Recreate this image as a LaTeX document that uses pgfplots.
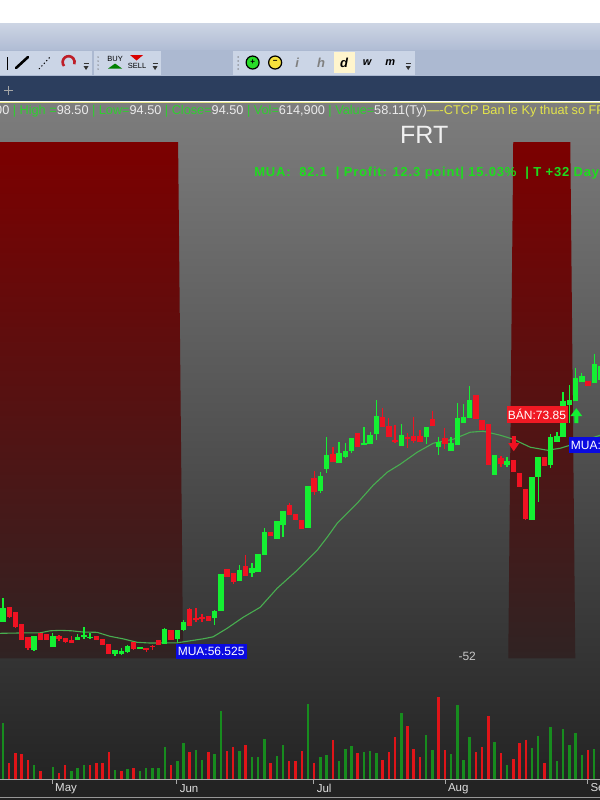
\documentclass[border=0pt]{standalone}
\usepackage{pgfplots}
\usepackage{pgfplotstable}
\usepackage{fontspec}
\setmainfont{Liberation Sans}
\newfontfamily\spacedbold[LetterSpace=6,BoldFont={Liberation Sans Bold}]{Liberation Sans}
\pgfplotsset{compat=1.18}
\definecolor{upG}{HTML}{14F032}
\definecolor{dnR}{HTML}{F01222}
\definecolor{volG}{HTML}{178C1E}
\definecolor{volR}{HTML}{E01418}
\definecolor{maG}{HTML}{48AE50}
\definecolor{infoG}{HTML}{2ED02E}
\definecolor{infoY}{HTML}{E4E44A}
\definecolor{barB}{HTML}{2C3E5E}
\definecolor{chip}{HTML}{CBD5E6}
\definecolor{tbTop}{RGB}{205,213,228}
\definecolor{tbBot}{RGB}{176,188,212}
\definecolor{tbMid}{RGB}{172,185,209}
\definecolor{yline}{RGB}{230,230,140}
\definecolor{bgTop}{RGB}{125,125,125}
\definecolor{bgBot}{RGB}{33,33,33}
\definecolor{magnet}{RGB}{190,30,40}
\definecolor{zoomG}{RGB}{40,220,40}
\definecolor{zoomY}{RGB}{245,225,60}
\definecolor{cream}{RGB}{255,245,205}
\definecolor{zoneTop}{RGB}{124,0,0}
\definecolor{zoneBot}{RGB}{48,35,35}
\definecolor{axLine}{RGB}{170,170,170}
\definecolor{axLow}{RGB}{150,150,150}
\definecolor{axText}{RGB}{222,222,222}
\definecolor{lblB}{RGB}{10,10,225}
\definecolor{lblR}{RGB}{240,25,35}
\definecolor{numG}{RGB}{200,200,200}
\definecolor{frtC}{RGB}{240,240,240}
\definecolor{muaG}{RGB}{30,220,30}
\definecolor{infoW}{RGB}{235,235,235}
% candles: x, body top, body bottom, wick top, wick bottom (picture rows)
\pgfplotstableread{
x bt bb wt wb
3.0 608 622 598 622
34.1 636 650 636 651
52.8 636 647 633 647
77.6 637 639.5 634 640
83.9 635 637 627 639
90.1 637 638 633 639
115.0 650 654 650 656
121.2 651 654 648 655
127.4 646 652 645 653
139.8 647 649 647 649
164.7 629 644 628 644
177.2 630 639 630 642
183.4 622 630 620 631
214.5 611 618 610 625
220.7 574 611 574 611
239.4 570 581 565 581
251.8 568 573 563 577
258.0 554 572 554 572
264.2 532 555 528 555
276.7 521 539 521 539
282.9 511 525 511 537
307.8 486 528 486 528
320.2 476 491 472 493
326.4 455 469 437 473
338.9 453 463 442 463
345.1 451 457 443 458
351.3 438 451 438 453
363.8 443 444.5 427 445
370.0 435 444 432 444
376.2 416 434 400 440
401.1 435 446 424 446
426.0 427 437 427 444
438.4 442 447 437 455
450.8 443 451 437 451
457.1 418 445 403 445
463.3 417 423 404 423
469.5 400 418 386 418
494.4 455 475 455 475
506.8 461 465 457 467
531.7 477 520 477 520
537.9 457 477 457 502
550.4 437 465 434 468
556.6 436 442 432 442
562.8 401 437 392 437
569.0 400 405 385 423
575.2 378 401 368 401
581.5 376 382 373 382
593.9 364 383 354 383
600.1 366 380 360 384
}\upcandles
\pgfplotstableread{
x bt bb wt wb
9.2 607 617 607 618
15.4 612 627 612 628
21.7 624 640 624 640
27.9 637 648 637 650
40.3 633 640 633 640
46.5 634 640 634 640
59.0 636 639 635 641
65.2 638 642 638 643
71.4 640 643 636 643
96.3 636 640 636 640
102.5 639 645 639 645
108.7 644 654 644 654
133.6 642 649 642 650
146.1 648 649.5 648 652
152.3 645.5 647 645 650
158.5 640 645 640 645
170.9 630 640 630 640
189.6 609 626 608 626
195.8 618 620 608 622
202.0 617 619 614 622
208.3 616 621 616 621
226.9 569 577 569 577
233.1 573 582 573 584
245.6 566 576 555 576
270.5 532 536 532 536
289.1 505 515 503 515
295.3 514 520 514 520
301.6 520 529 520 529
314.0 478 492 471 495
332.7 454 462 447 462
357.5 433 447 433 447
382.4 417 427 408 427
388.6 426 437 418 437
394.9 440 442 425 443
407.3 437 439 433 448
413.5 436 441 417 443
419.7 436 442 430 442
432.2 419 426 411 426
444.6 438 444 428 449
475.7 395 419 395 419
481.9 420 430 420 430
488.2 424 465 424 465
500.6 458 464 456 467
513.0 460 472 460 472
519.3 473 487 473 487
525.5 489 519 489 520
544.1 457 466 457 466
587.7 381 386 381 386
}\dncandles
% volume: x, top row of the bar (base row 779.5)
\pgfplotstableread{
x t
3.0 723
34.1 765
52.8 766.7
71.4 770.7
77.6 768
83.9 764.7
115.0 770
127.4 769
139.8 770.7
146.1 768
152.3 768
158.5 768
164.7 747
177.2 760.7
183.4 743
195.8 750
202.0 760
214.5 754
220.7 710.7
239.4 751
251.8 756.7
258.0 756.7
264.2 738.7
276.7 756
282.9 745
307.8 704
320.2 757
326.4 754.7
339.0 760.7
345.1 749
351.3 746
363.8 752
370.0 751
376.2 753
401.1 712.7
426.0 734.7
432.2 750
450.8 754
457.1 705
463.3 760
469.5 736.7
494.4 742
506.8 764.7
531.7 748
537.9 736
550.4 727
556.6 761
562.8 729
569.0 745
575.2 732.7
581.5 754.7
593.9 749
}\upvol
\pgfplotstableread{
x t
9.2 763
15.4 752.7
21.7 754
27.9 760
40.3 770.7
59.0 772.7
65.2 765
90.1 764.7
96.3 763
102.5 763
108.7 752
121.2 770.7
133.6 768
170.9 764.7
189.6 752
208.3 752
226.9 751
233.1 747
245.6 744.7
270.5 762.7
289.1 760.7
295.3 760.7
301.6 751
314.0 762.7
332.7 740
357.5 752.7
382.4 760
388.6 752
394.9 736.7
407.3 726
413.5 748.7
419.7 756.7
438.4 697
444.6 750
475.7 752
481.9 746.7
488.2 716
500.6 752.7
513.0 758.7
519.3 742.7
525.5 739.3
544.1 762.7
587.7 750
}\dnvol
\pgfplotsset{
  candle/.style n args={3}{forget plot, mark=none, draw=none,
    error bars/.cd, y dir=plus, y explicit, error mark=none,
    error bar style={draw=#1, line width=#2, line cap=#3}},
}
\begin{document}
\begin{tikzpicture}
\useasboundingbox (0,0.4pt) rectangle (599.6pt,800pt);
\clip (0,0.4pt) rectangle (599.6pt,800pt);
\begin{axis}[
  at={(0,0)}, anchor=south west,
  scale only axis, width=600pt, height=800pt,
  xmin=0, xmax=600, ymin=0, ymax=800, y dir=reverse,
  axis lines=none, clip=false]
% page, toolbars
\fill[white] (0,0) rectangle (600,23);
\shade[top color=tbTop, bottom color=tbBot] (0,23) rectangle (600,50);
\fill[tbMid] (0,50) rectangle (600,76);
\fill[chip] (0,51) rectangle (92,75);
\fill[chip] (94,51) rectangle (161,75);
\fill[chip] (233,51) rectangle (415,75);
\fill[barB] (0,76) rectangle (600,101);
\draw[gray!70!white, line width=.8pt] (8.5,86) -- (8.5,95) (4,90.5) -- (13,90.5);
\draw[yline, line width=1.5pt] (0,102.5) -- (600,102.5);
\shade[top color=bgTop, bottom color=bgBot] (0,103) rectangle (600,800);
% toolbar icons
\draw[black, line width=2.6pt, line cap=round] (16,68) -- (28,57);
\draw[black, line width=1pt, dash pattern=on 1.2pt off 2.4pt] (39,69) -- (50,57);
\draw[magnet, line width=2.6pt] (64,66) arc[start angle=220, end angle=-20, radius=6pt];
\draw[black, line width=.5pt] (7,57) -- (7,70);
\pgfplotsinvokeforeach{86,155,408}{\fill[black!80] (#1-2.5,66) -- (#1+2.5,66) -- (#1,70) -- cycle; \draw[black!80] (#1-2.5,63.5) -- (#1+2.5,63.5);}
\node[font=\fontsize{7.5}{8}\selectfont, black] at (115,59) {BUY};
\fill[green!50!black] (108,68.5) -- (122,68.5) -- (115,63.5) -- cycle;
\fill[red!85!black] (130,55) -- (143,55) -- (136.5,60.5) -- cycle;
\node[font=\fontsize{7.5}{8}\selectfont, black] at (137,66) {SELL};
\pgfplotsinvokeforeach{98,238}{\fill[black!60] (#1,57) circle[radius=.7pt] (#1,61) circle[radius=.7pt] (#1,65) circle[radius=.7pt] (#1,69) circle[radius=.7pt];}
\filldraw[fill=zoomG, draw=black, line width=1.2pt] (252.5,62.5) circle[radius=6.5pt];
\node[font=\fontsize{8}{8}\selectfont\bfseries, black] at (252.5,62) {+};
\filldraw[fill=zoomY, draw=black, line width=1.2pt] (275,62.5) circle[radius=6.5pt];
\node[font=\fontsize{8}{8}\selectfont\bfseries, black] at (275,62) {−};
\fill[cream] (333.5,52) rectangle (355,73);
\node[font=\fontsize{13}{14}\selectfont\bfseries\itshape, gray] at (297,62.5) {i};
\node[font=\fontsize{13}{14}\selectfont\bfseries\itshape, gray] at (321,62.5) {h};
\node[font=\fontsize{13}{14}\selectfont\bfseries\itshape, black] at (344,62.5) {d};
\node[font=\fontsize{11}{14}\selectfont\bfseries\itshape, black] at (367,62.5) {w};
\node[font=\fontsize{11}{14}\selectfont\bfseries\itshape, black] at (390,62.5) {m};
% shaded sell zones
\addplot[draw=none, top color=zoneTop, bottom color=zoneBot, forget plot] coordinates {(0,142) (178,142) (183,658) (0,658)} -- cycle;
\addplot[draw=none, top color=zoneTop, bottom color=zoneBot, forget plot] coordinates {(513,142) (570,142) (575,658) (508,658)} -- cycle;
% volume
\addplot[candle={volG}{2.5pt}{butt}] table[x=x, y=t, y error plus expr=779.5-\thisrow{t}] {\upvol};
\addplot[candle={volR}{2.5pt}{butt}] table[x=x, y=t, y error plus expr=779.5-\thisrow{t}] {\dnvol};
\draw[axLine, line width=.9pt] (0,779.5) -- (600,779.5);
\draw[axLow, line width=1pt] (0,797) -- (600,797);
\pgfplotsinvokeforeach{52,176,313,445,587}{\draw[axLine, line width=.7pt] (#1,780) -- (#1,784);}
\node[font=\fontsize{11.5}{12}\selectfont, axText] at (66,788) {May};
\node[font=\fontsize{11.5}{12}\selectfont, axText] at (189,788) {Jun};
\node[font=\fontsize{11.5}{12}\selectfont, axText] at (324,788) {Jul};
\node[font=\fontsize{11.5}{12}\selectfont, axText] at (458,788) {Aug};
\node[font=\fontsize{11.5}{12}\selectfont, axText, anchor=west, inner sep=0pt] at (590,788) {Sep};
% moving average
\addplot[maG, line width=1.1pt, forget plot] coordinates {
(0,633)(30,632.5)(40,632.5)(50,630.5)(60,630)(72,630.5)(83,631.7)(97,632)(110,636)(123,638.5)(137,642)(150,642.7)(177,642.5)(190,640.5)(203,638.5)(213,636.5)(227,628)(243,617)(260,607)(277,588)(297,570)(317,550)(327,537)(337,523)(357,503)(373,485)(387,472)(400,464)(417,452)(433,443)(453,439)(470,432)(483,431)(500,435)(513,439)(530,447)(547,450)(560,448)(573,444)(600,435)};
% candles
\addplot[candle={upG}{1.3pt}{butt}] table[x=x, y=wt, y error plus expr=\thisrow{wb}-\thisrow{wt}] {\upcandles};
\addplot[candle={dnR}{1.3pt}{butt}] table[x=x, y=wt, y error plus expr=\thisrow{wb}-\thisrow{wt}] {\dncandles};
\addplot[candle={upG}{5.4pt}{butt}] table[x=x, y=bt, y error plus expr=\thisrow{bb}-\thisrow{bt}] {\upcandles};
\addplot[candle={dnR}{5.4pt}{butt}] table[x=x, y=bt, y error plus expr=\thisrow{bb}-\thisrow{bt}] {\dncandles};
% signal arrows
\addplot[fill=upG, draw=none, forget plot] coordinates {(576,408)(582,416)(578,416)(578,423)(574,423)(574,416)(570,416)} -- cycle;
\addplot[fill=dnR, draw=none, forget plot] coordinates {(513.5,451)(508,443)(511.5,443)(511.5,436)(515.5,436)(515.5,443)(519,443)} -- cycle;
% labels
\fill[lblB] (176,644) rectangle (246.5,659);
\node[font=\fontsize{12}{13}\selectfont, white, anchor=west, inner sep=0pt] at (177.5,651.5) {MUA:56.525};
\fill[lblR] (507,406) rectangle (568,422.5);
\node[font=\fontsize{12}{13}\selectfont, white, anchor=west, inner sep=0pt] at (507.5,414) {BÁN:73.85};
\fill[lblB] (569,437) rectangle (600,453);
\node[font=\fontsize{12}{13}\selectfont, white, anchor=west, inner sep=0pt] at (570.5,445) {MUA:56.525};
\node[font=\fontsize{12}{13}\selectfont, numG] at (467,656.5) {-52};
\node[font=\fontsize{25}{26}\selectfont, frtC] at (424,134.5) {FRT};
\node[font=\fontsize{13}{14}\selectfont\spacedbold\bfseries, muaG, anchor=west, inner sep=0pt] at (254,173) {MUA:\ \ 82.1 \ |\ Profit: 12.3 point|\ 15.03\% \ |\ T +32 Day};
\node[font=\fontsize{12.7}{13}\selectfont, anchor=west, inner sep=0pt, infoW] at (-5,111) {00\textcolor{infoG}{\ |\ High =}98.50\textcolor{infoG}{\ |\ Low=}94.50\textcolor{infoG}{\ |\ Close=}94.50\textcolor{infoG}{\ |\ Vol=}614,900\textcolor{infoG}{\ |\ Value=}58.11(Ty)\textcolor{infoY}{----CTCP Ban le Ky thuat so FPT}};
\end{axis}
\end{tikzpicture}
\end{document}
